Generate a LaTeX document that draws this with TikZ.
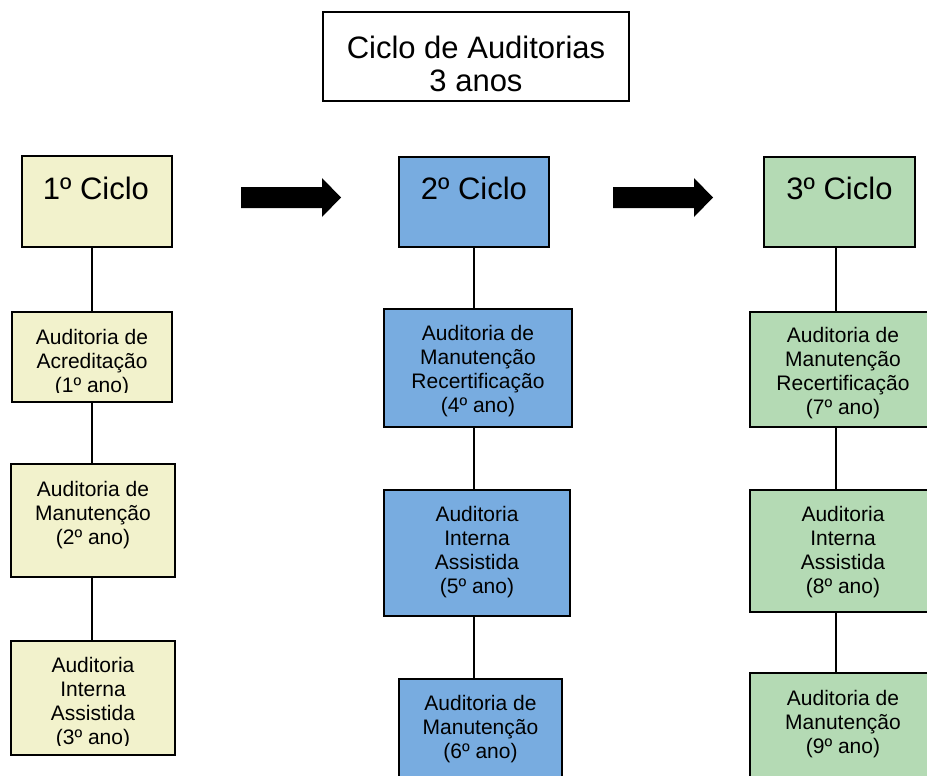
\documentclass[tikz,border=0pt]{standalone}
\usepackage{fontspec}
\setmainfont{Liberation Sans}
\definecolor{cyel}{RGB}{242,242,204}
\definecolor{cblue}{RGB}{120,172,224}
\definecolor{cgreen}{RGB}{180,218,180}
\tikzset{
  box/.style={draw=black, line width=1.6pt, inner sep=0pt, anchor=center},
  yb/.style={box, fill=cyel},
  bb/.style={box, fill=cblue},
  gb/.style={box, fill=cgreen},
  btext/.style={align=center, inner sep=0pt, font=\fontsize{21}{24}\selectfont},
  ctext/.style={inner sep=0pt, font=\fontsize{31}{33}\selectfont},
  conn/.style={draw=black, line width=1.4pt},
  bigarrow/.style={fill=black}
}
\begin{document}
\begin{tikzpicture}[x=1pt,y=-1pt]
\useasboundingbox (0,0) rectangle (927,776);
\clip (0,0) rectangle (927,776);
\fill[white] (0,0) rectangle (927,776);
% title
\node[box, minimum width=306pt, minimum height=89pt] (title) at (476,56.5) {};
\node[ctext, align=center] (titletext) at (476,64) {Ciclo de Auditorias\\3 anos};
% column 1
\node[yb, minimum width=150pt, minimum height=91pt] (c1) at (97,201.5) {};
\node[ctext] (c1t) at (96,188) {1º Ciclo};
\node[yb, minimum width=160pt, minimum height=90pt] (a1) at (92,357) {};
\begin{scope}
\clip (12,312) rectangle (172,392);
\node[btext] (a1t) at (92,363) {Auditoria de\\Acreditação\\(1º ano)};
\end{scope}
\node[yb, minimum width=164pt, minimum height=113pt] (b1) at (93,520.5) {};
\node[btext] (b1t) at (93,515) {Auditoria de\\Manutenção\\(2º ano)};
\node[yb, minimum width=164pt, minimum height=114pt] (d1) at (93,698) {};
\begin{scope}
\clip (11,641) rectangle (175,745);
\node[btext] (d1t) at (93,703) {Auditoria\\Interna\\Assistida\\(3º ano)};
\end{scope}
\draw[conn] (a1.north) -- (a1.north |- c1.south);
\draw[conn] (a1.south) -- (a1.south |- b1.north);
\draw[conn] (a1.south |- b1.south) -- (a1.south |- d1.north);
% arrows
\fill[bigarrow] (241,187) -- (322,187) -- (322,178) -- (341,197.5) -- (322,217) -- (322,208) -- (241,208) -- cycle;
\fill[bigarrow] (613,187) -- (694,187) -- (694,178) -- (713,197.5) -- (694,217) -- (694,208) -- (613,208) -- cycle;
% column 2
\node[bb, minimum width=150pt, minimum height=90pt] (c2) at (474,202) {};
\node[ctext] (c2t) at (474,188) {2º Ciclo};
\node[bb, minimum width=188pt, minimum height=118pt] (a2) at (478,368) {};
\node[btext] (a2t) at (478,371) {Auditoria de\\Manutenção\\Recertificação\\(4º ano)};
\node[bb, minimum width=186pt, minimum height=126pt] (b2) at (477,553) {};
\node[btext] (b2t) at (477,552) {Auditoria\\Interna\\Assistida\\(5º ano)};
\node[bb, minimum width=163pt, minimum height=130pt] (d2) at (480.5,744) {};
\node[btext] (d2t) at (480.5,729) {Auditoria de\\Manutenção\\(6º ano)};
\draw[conn] (c2.south) -- (c2.south |- a2.north);
\draw[conn] (c2.south |- a2.south) -- (c2.south |- b2.north);
\draw[conn] (c2.south |- b2.south) -- (c2.south |- d2.north);
% column 3
\node[gb, minimum width=151pt, minimum height=90pt] (c3) at (839.5,202) {};
\node[ctext] (c3t) at (839.5,188) {3º Ciclo};
\node[gb, minimum width=186pt, minimum height=115pt] (a3) at (843,369.5) {};
\node[btext] (a3t) at (843,373) {Auditoria de\\Manutenção\\Recertificação\\(7º ano)};
\node[gb, minimum width=186pt, minimum height=122pt] (b3) at (843,551) {};
\node[btext] (b3t) at (843,552) {Auditoria\\Interna\\Assistida\\(8º ano)};
\node[gb, minimum width=186pt, minimum height=130pt] (d3) at (843,738) {};
\node[btext] (d3t) at (843,724) {Auditoria de\\Manutenção\\(9º ano)};
\coordinate (k3) at ([xshift=-3.5pt]c3.south);
\draw[conn] (k3) -- (k3 |- a3.north);
\draw[conn] (k3 |- a3.south) -- (k3 |- b3.north);
\draw[conn] (k3 |- b3.south) -- (k3 |- d3.north);
\end{tikzpicture}
\end{document}
